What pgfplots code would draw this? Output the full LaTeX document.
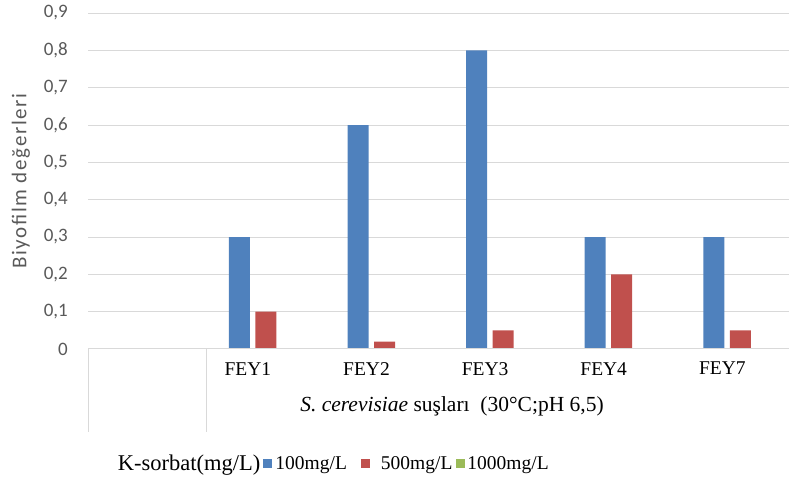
\documentclass[border=0pt]{standalone}
\usepackage{fontspec}
\setmainfont{Liberation Serif}
\newfontfamily\calibri{Carlito}
\newfontfamily\calibrispaced[LetterSpace=8]{Carlito}
\usepackage{pgfplots}
\pgfplotsset{compat=1.18}

\definecolor{barblue}{HTML}{4F81BD}
\definecolor{barred}{HTML}{C0504D}
\definecolor{bargreen}{HTML}{9BBB59}
\definecolor{gridgray}{HTML}{D9D9D9}
\definecolor{labelgray}{HTML}{595959}

\begin{document}
\begin{tikzpicture}[x=1pt,y=1pt]
\useasboundingbox (0,0) rectangle (789,484);
\begin{axis}[
  at={(88pt,135pt)}, anchor=south west,
  scale only axis, width=711.6pt, height=336pt,
  xmin=-0.5, xmax=5.5, ymin=0, ymax=0.9,
  ybar=5.5pt, bar width=21pt,
  axis line style={draw=none},
  ymajorgrids, grid style={gridgray, line width=1pt},
  major tick length=0pt, tick style={draw=none},
  xtick={1,2,3,4,5},
  xticklabels={FEY1,FEY2,FEY3,FEY4,FEY7},
  ytick={0,0.1,0.2,0.3,0.4,0.5,0.6,0.7,0.8,0.9},
  yticklabel style={/pgf/number format/.cd, use comma, fixed, precision=1, assume math mode=true,
    /tikz/.cd, font=\calibri\fontsize{19}{22}\selectfont, text=labelgray,
    anchor=east, inner sep=0pt, xshift=-20pt},
  xticklabel style={font=\fontsize{19.5}{22}\selectfont, text=black,
    anchor=north, inner sep=0pt, yshift=-13pt, xshift=-18pt},
  clip=false,
  legend columns=-1,
  legend cell align=left,
  legend style={at={(0.0379,-0.3408)}, anchor=west, draw=none, fill=none,
    inner sep=0pt, outer sep=0pt, column sep=0pt,
    nodes={inner sep=0pt, font=\fontsize{19.5}{22}\selectfont},
    /tikz/column 1/.append style={column sep=3pt},
    /tikz/column 2/.append style={column sep=3pt},
    /tikz/column 3/.append style={column sep=3pt},
    /tikz/column 4/.append style={column sep=14pt},
    /tikz/column 5/.append style={column sep=11pt},
    /tikz/column 6/.append style={column sep=4pt},
    /tikz/column 7/.append style={column sep=2pt}},
]
\addlegendimage{empty legend}
\addlegendentry{\fontsize{22.5}{25}\selectfont K-sorbat(mg/L)}

% 100 mg/L
\addplot[fill=barblue, draw=none,
  legend image code/.code={\fill[barblue] (0pt,-4.5pt) rectangle (9pt,4.5pt);}]
  coordinates {(1,0.3) (2,0.6) (3,0.8) (4,0.3) (5,0.3)};
\addlegendentry{100mg/L}
% 500 mg/L
\addplot[fill=barred, draw=none,
  legend image code/.code={\fill[barred] (0pt,-4.5pt) rectangle (9pt,4.5pt);}]
  coordinates {(1,0.1) (2,0.02) (3,0.05) (4,0.2) (5,0.05)};
\addlegendentry{500mg/L}
% 1000 mg/L
\addplot[fill=bargreen, draw=none,
  legend image code/.code={\fill[bargreen] (0pt,-4.5pt) rectangle (9pt,4.5pt);}]
  coordinates {(1,0) (2,0) (3,0) (4,0) (5,0)};
\addlegendentry{1000mg/L}

% category axis line and the dividers of the label table
\draw[gridgray, line width=1pt] (rel axis cs:0,0) -- (rel axis cs:1,0);
\draw[gridgray, line width=1pt] (axis cs:-0.5,0) -- ++(0pt,-83pt);
\draw[gridgray, line width=1pt] (axis cs:0.5,0) -- ++(0pt,-83pt);
\end{axis}

\node[anchor=base, inner sep=0pt, font=\fontsize{21.5}{24}\selectfont]
  at (452,72) {\textit{S. cerevisiae} suşları~~(30°C;pH 6,5)};
\node[rotate=90, inner sep=0pt, text=labelgray, font=\calibrispaced\fontsize{21}{24}\selectfont]
  at (21,303) {Biyofilm değerleri};
\end{tikzpicture}
\end{document}
